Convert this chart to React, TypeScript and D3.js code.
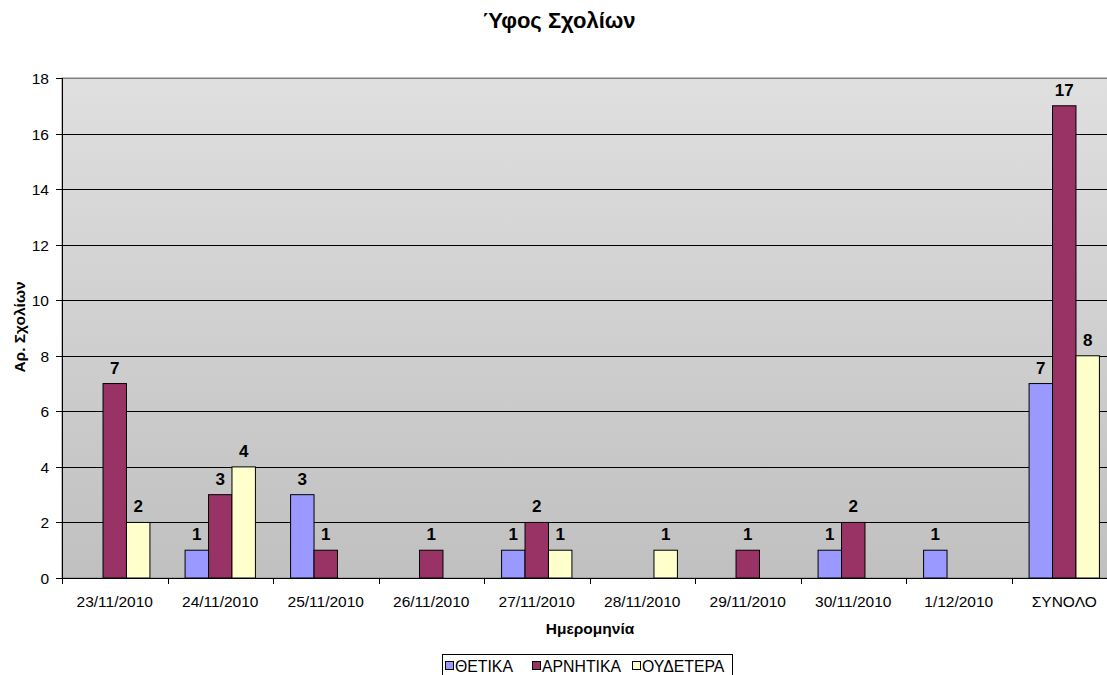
import { useEffect, useRef } from 'react';
import * as d3 from 'd3';

const categories = ['23/11/2010', '24/11/2010', '25/11/2010', '26/11/2010', '27/11/2010', '28/11/2010', '29/11/2010', '30/11/2010', '1/12/2010', 'ΣΥΝΟΛΟ'];
const seriesNames = ['ΘΕΤΙΚΑ', 'ΑΡΝΗΤΙΚΑ', 'ΟΥΔΕΤΕΡΑ'];
const positive = [0, 1, 3, 0, 1, 0, 0, 1, 1, 7];
const negative = [7, 3, 1, 1, 2, 0, 1, 2, 0, 17];
const neutral = [2, 4, 0, 0, 1, 1, 0, 0, 0, 8];
const yTicks = [0, 2, 4, 6, 8, 10, 12, 14, 16, 18];
const colors = ['#9999ff', '#993366', '#ffffcc'];

function App() {
  const svgRef = useRef<SVGSVGElement>(null);

  useEffect(() => {
    if (!svgRef.current) return;
    const svg = d3.select(svgRef.current);
    svg.selectAll('*').remove();

    const width = 1107;
    const height = 675;
    const font = '"Liberation Sans", Arial, sans-serif';
    const left = 62, top = 78, bottom = 578;
    const bandW = 105.5;
    const right = left + bandW * categories.length;

    const x = d3.scaleBand<string>().domain(categories).range([left, right]).paddingInner(0).paddingOuter(0);
    const y = d3.scaleLinear().domain([0, 18]).range([bottom, top]);
    const barW = bandW / 4.5;

    // background gradient
    const defs = svg.append('defs');
    const grad = defs.append('linearGradient').attr('id', 'bg').attr('x1', 0).attr('y1', 0).attr('x2', 0).attr('y2', 1);
    grad.append('stop').attr('offset', '0%').attr('stop-color', '#dfdfdf');
    grad.append('stop').attr('offset', '100%').attr('stop-color', '#c0c0c0');

    svg.append('rect')
      .attr('x', left).attr('y', top)
      .attr('width', right - left).attr('height', bottom - top)
      .attr('fill', 'url(#bg)')
      .attr('stroke', '#808080').attr('stroke-width', 1);

    // gridlines
    svg.append('g').selectAll('line')
      .data(yTicks.filter(t => t > 0))
      .enter().append('line')
      .attr('x1', left).attr('x2', right)
      .attr('y1', d => Math.round(y(d)) + 0.5).attr('y2', d => Math.round(y(d)) + 0.5)
      .attr('stroke', d => (d === 18 ? '#808080' : '#000'))
      .attr('stroke-width', 1);

    // y axis
    const yAxis = svg.append('g');
    yAxis.append('line')
      .attr('x1', left + 0.5).attr('x2', left + 0.5)
      .attr('y1', top).attr('y2', bottom)
      .attr('stroke', '#000');
    yTicks.forEach(t => {
      const yy = Math.round(y(t)) + 0.5;
      yAxis.append('line').attr('x1', left - 6).attr('x2', left).attr('y1', yy).attr('y2', yy).attr('stroke', '#000');
      yAxis.append('text')
        .attr('x', 49).attr('y', yy + 5.5)
        .attr('text-anchor', 'end')
        .attr('font-family', font).attr('font-size', 15.5)
        .text(t);
    });

    // series
    const seriesData = [positive, negative, neutral];
    seriesData.forEach((vals, si) => {
      const g = svg.append('g');
      vals.forEach((v, ci) => {
        if (v === 0) return;
        const bx = (x(categories[ci]) as number) + bandW / 2 - 1.5 * barW + si * barW;
        g.append('rect')
          .attr('x', bx).attr('y', y(v))
          .attr('width', barW).attr('height', bottom - y(v))
          .attr('fill', colors[si])
          .attr('stroke', '#000').attr('stroke-width', 1);
        g.append('text')
          .attr('x', bx + barW / 2).attr('y', y(v) - 10)
          .attr('text-anchor', 'middle')
          .attr('font-family', font).attr('font-size', 17).attr('font-weight', 'bold')
          .text(v);
      });
    });

    // x axis
    const xAxis = svg.append('g');
    xAxis.append('line')
      .attr('x1', left).attr('x2', right)
      .attr('y1', bottom + 0.5).attr('y2', bottom + 0.5)
      .attr('stroke', '#000');
    categories.forEach((c, i) => {
      const xx = Math.round(left + i * bandW) + 0.5;
      xAxis.append('line').attr('x1', xx).attr('x2', xx).attr('y1', bottom).attr('y2', bottom + 6).attr('stroke', '#000');
      xAxis.append('text')
        .attr('x', (x(c) as number) + bandW / 2).attr('y', 607)
        .attr('text-anchor', 'middle')
        .attr('font-family', font).attr('font-size', 15.5)
        .text(c);
    });

    // title & axis titles
    svg.append('text')
      .attr('x', 559).attr('y', 28)
      .attr('text-anchor', 'middle')
      .attr('font-family', font).attr('font-size', 22).attr('font-weight', 'bold')
      .text('Ύφος Σχολίων');
    svg.append('text')
      .attr('x', 590).attr('y', 634)
      .attr('text-anchor', 'middle')
      .attr('font-family', font).attr('font-size', 15.5).attr('font-weight', 'bold')
      .text('Ημερομηνία');
    svg.append('text')
      .attr('transform', `translate(25, 327) rotate(-90)`)
      .attr('text-anchor', 'middle')
      .attr('font-family', font).attr('font-size', 15.5).attr('font-weight', 'bold')
      .text('Αρ. Σχολίων');

    // legend
    const lg = svg.append('g');
    lg.append('rect')
      .attr('x', 442.5).attr('y', 654.5).attr('width', 290).attr('height', 26)
      .attr('fill', '#fff').attr('stroke', '#000');
    const itemX = [445, 532, 632];
    seriesNames.forEach((n, i) => {
      lg.append('rect')
        .attr('x', itemX[i] + 0.5).attr('y', 661.5).attr('width', 8).attr('height', 8)
        .attr('fill', colors[i]).attr('stroke', '#000');
      lg.append('text')
        .attr('x', itemX[i] + 10).attr('y', 672)
        .attr('font-family', font).attr('font-size', 15.8)
        .text(n);
    });

    svg.attr('viewBox', `0 0 ${width} ${height}`);
  }, []);

  return (
    <svg
      ref={svgRef}
      width={1107}
      height={675}
      style={{ position: 'fixed', left: 0, top: 0, background: '#fff' }}
    />
  );
}

export default App;
